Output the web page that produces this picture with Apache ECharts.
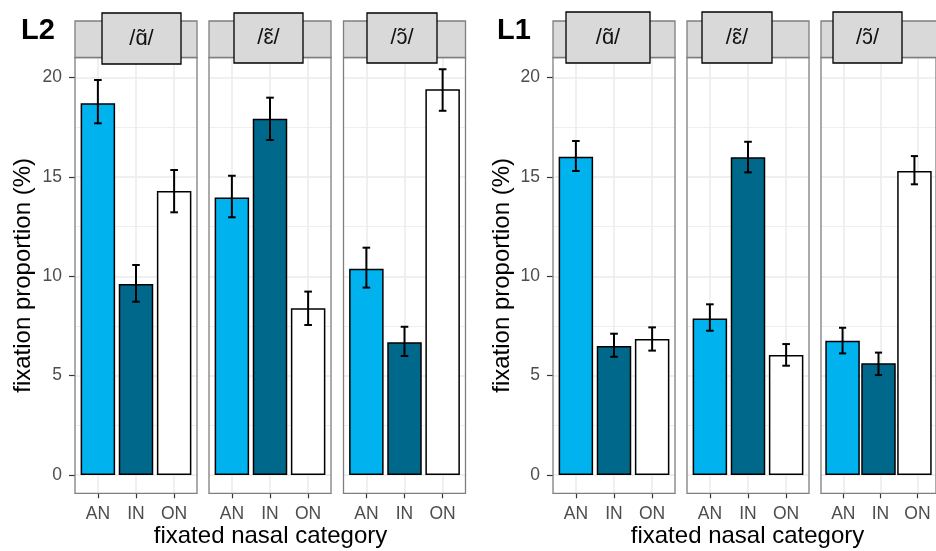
<!DOCTYPE html>
<html>
<head>
<meta charset="utf-8">
<script src="https://cdn.jsdelivr.net/npm/echarts@6/dist/echarts.min.js"></script>
<style>
html,body{margin:0;padding:0;background:#fff;}
#chart{width:936px;height:551px;}
</style>
</head>
<body>
<div id="chart"></div>
<script>
// ---------- data ----------
const groups = ['L2', 'L1'];
const vowels = ['/ɑ̃/', '/ɛ̃/', '/ɔ̃/'];
const categories = ['AN', 'IN', 'ON'];
const yTicks = [0, 5, 10, 15, 20];
const xTitle = 'fixated nasal category';
const yTitle = 'fixation proportion (%)';

// mean fixation proportion (%) per vowel, categories AN, IN, ON
const L2_mean  = [[18.71, 9.61, 14.29], [13.97, 17.93, 8.39], [10.38, 6.68, 19.41]];
const L2_lower = [[17.70, 8.72, 13.22], [12.97, 16.86, 7.55], [9.43, 5.99, 18.33]];
const L2_upper = [[19.88, 10.57, 15.35], [15.06, 18.99, 9.23], [11.44, 7.46, 20.42]];

const L1_mean  = [[16.02, 6.49, 6.84], [7.88, 15.99, 6.04], [6.76, 5.62, 15.30]];
const L1_lower = [[15.30, 5.95, 6.26], [7.26, 15.23, 5.50], [6.12, 5.03, 14.63]];
const L1_upper = [[16.81, 7.11, 7.43], [8.59, 16.77, 6.59], [7.41, 6.16, 16.05]];

// ---------- layout / style ----------
const FONT = '"Liberation Sans", Arial, Helvetica, sans-serif';
const fills = ['#00B2EE', '#00688B', '#FFFFFF'];
const H = 551;
const panelLefts = [[75, 209, 343.5], [553, 687, 821]];
const PW = 122, PT = 57.5, PB = 493.3, Y20 = 77.6, Y0 = 475;
const unitPx = PW / 3.2;
const stripTop = 21;
const labelBoxes = [
  [[102, 13, 79, 51], [234, 13, 69, 50], [367, 13, 70, 50]],
  [[566, 12, 84, 51], [702, 12, 70, 51], [833, 12, 69, 51]]
];
const groupLabelX = [21, 497];
const yTitleX = [23, 502];
const xTitleX = [270.5, 747.5];

const dataSets = {
  L2: {mean: L2_mean, lower: L2_lower, upper: L2_upper},
  L1: {mean: L1_mean, lower: L1_lower, upper: L1_upper}
};

const grids = [], xAxes = [], yAxes = [], series = [], graphics = [];

groups.forEach((g, gi) => {
  const ds = dataSets[g];
  vowels.forEach((v, vi) => {
    const pl = panelLefts[gi][vi];
    // grid A: bars, value axes
    grids.push({left: pl, width: PW, top: Y20, height: Y0 - Y20});
    const gA = grids.length - 1;
    xAxes.push({gridIndex: gA, type: 'value', min: 0.4, max: 3.6, show: false});
    const xa = xAxes.length - 1;
    yAxes.push({
      gridIndex: gA, type: 'value', min: yTicks[0], max: yTicks[yTicks.length - 1], interval: 5,
      axisLine: {show: false},
      axisTick: {show: vi === 0, length: 6, lineStyle: {color: '#333', width: 1.2}},
      axisLabel: {show: vi === 0, margin: 13, color: '#4d4d4d', fontSize: 17.5, fontFamily: FONT},
      splitLine: {show: true, lineStyle: {color: '#ebebeb', width: 1.5}},
      minorTick: {show: false, splitNumber: 2},
      minorSplitLine: {show: true, lineStyle: {color: '#ebebeb', width: 0.8}}
    });
    const ya = yAxes.length - 1;

    // grid B: category labels / ticks / vertical gridlines
    grids.push({left: pl + 0.1 * unitPx, width: 3 * unitPx, top: PT, bottom: H - PB});
    const gB = grids.length - 1;
    xAxes.push({
      gridIndex: gB, type: 'category', data: categories, position: 'bottom',
      axisLine: {show: false},
      axisTick: {show: true, alignWithLabel: true, interval: 0, length: 5, lineStyle: {color: '#333', width: 1.2}},
      axisLabel: {interval: 0, margin: 12, color: '#4d4d4d', fontSize: 17.5, fontFamily: FONT},
      splitLine: {show: false}
    });
    xAxes.push({
      gridIndex: gB, type: 'category', data: categories, position: 'top',
      axisLine: {show: false},
      axisTick: {show: true, alignWithLabel: true, interval: 0, inside: true, length: PB - PT, lineStyle: {color: '#ebebeb', width: 1.5}},
      axisLabel: {show: false},
      splitLine: {show: false}
    });
    yAxes.push({gridIndex: gB, type: 'value', show: false, splitLine: {show: false}});

    // grid C: panel border on top
    grids.push({left: pl, width: PW, top: PT, bottom: H - PB, show: true, borderColor: '#7f7f7f', borderWidth: 1.3, backgroundColor: 'transparent', z: 10});
    const gC = grids.length - 1;
    xAxes.push({gridIndex: gC, type: 'value', show: false, splitLine: {show: false}});
    yAxes.push({gridIndex: gC, type: 'value', show: false, splitLine: {show: false}});

    // bars
    series.push({
      type: 'bar', xAxisIndex: xa, yAxisIndex: ya, barWidth: 34.5, z: 2,
      itemStyle: {borderColor: '#000', borderWidth: 1.5},
      data: categories.map((c, i) => ({value: [i + 1, ds.mean[vi][i]], itemStyle: {color: fills[i]}}))
    });
    // error bars
    series.push({
      type: 'custom', xAxisIndex: xa, yAxisIndex: ya, z: 3, clip: false,
      encode: {x: 0, y: [1, 2]},
      data: categories.map((c, i) => [i + 1, ds.lower[vi][i], ds.upper[vi][i]]),
      renderItem: function (params, api) {
        const x = api.value(0), lo = api.value(1), hi = api.value(2);
        const pt = api.coord([x, hi]), pb = api.coord([x, lo]);
        const half = api.size([0.1, 0])[0];
        const st = {stroke: '#000', lineWidth: 2};
        return {type: 'group', children: [
          {type: 'line', shape: {x1: pt[0], y1: pt[1], x2: pb[0], y2: pb[1]}, style: st},
          {type: 'line', shape: {x1: pt[0] - half, y1: pt[1], x2: pt[0] + half, y2: pt[1]}, style: st},
          {type: 'line', shape: {x1: pb[0] - half, y1: pb[1], x2: pb[0] + half, y2: pb[1]}, style: st}
        ]};
      }
    });

    // strip
    graphics.push({type: 'rect', z: 20, shape: {x: pl, y: stripTop, width: PW, height: PT - stripTop},
      style: {fill: '#d9d9d9', stroke: '#7f7f7f', lineWidth: 1.3}});
    const b = labelBoxes[gi][vi];
    graphics.push({type: 'rect', z: 21, shape: {x: b[0], y: b[1], width: b[2], height: b[3]},
      style: {fill: '#d9d9d9', stroke: '#000', lineWidth: 1.3}});
    graphics.push({type: 'text', z: 22, x: b[0] + b[2] / 2, y: b[1] + b[3] / 2,
      style: {text: v, fill: '#111', fontSize: 22, fontFamily: FONT, align: 'center', verticalAlign: 'middle'}});
  });
  graphics.push({type: 'text', z: 22, x: groupLabelX[gi], y: 31,
    style: {text: g, fill: '#000', fontSize: 29, fontWeight: 'bold', fontFamily: FONT, align: 'left', verticalAlign: 'middle'}});
  graphics.push({type: 'text', z: 22, x: xTitleX[gi], y: 536.5,
    style: {text: xTitle, fill: '#000', fontSize: 24, fontFamily: FONT, align: 'center', verticalAlign: 'middle'}});
  graphics.push({type: 'text', z: 22, x: yTitleX[gi], y: (PT + PB) / 2, rotation: Math.PI / 2,
    style: {text: yTitle, fill: '#000', fontSize: 24, fontFamily: FONT, align: 'center', verticalAlign: 'middle'}});
});

const chart = echarts.init(document.getElementById('chart'), null, {renderer: 'canvas'});
chart.setOption({
  animation: false,
  backgroundColor: '#fff',
  textStyle: {fontFamily: FONT},
  grid: grids,
  xAxis: xAxes,
  yAxis: yAxes,
  series: series,
  graphic: graphics
});
</script>
</body>
</html>
